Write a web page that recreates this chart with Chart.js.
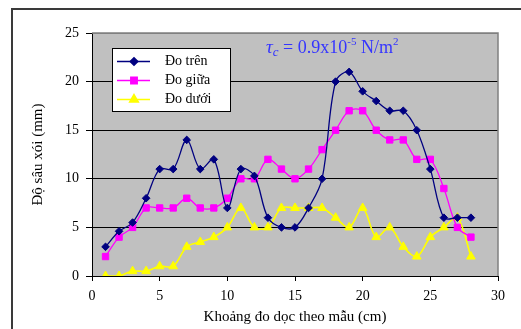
<!DOCTYPE html>
<html>
<head>
<meta charset="utf-8">
<script src="https://cdn.jsdelivr.net/npm/chart.js@4"></script>
<style>
  html, body { margin: 0; padding: 0; background: #fff; }
  #wrap { width: 521px; height: 329px; position: relative; }
</style>
</head>
<body>
<div id="wrap"><canvas id="c" width="521" height="329"></canvas></div>
<script>
// Measurement positions along the sample (cm)
const positions = [1, 2, 3, 4, 5, 6, 7, 8, 9, 10, 11, 12, 13, 14, 15, 16, 17, 18, 19, 20, 21, 22, 23, 24, 25, 26, 27, 28];

// Scour depth (mm)
const doTren = [3, 4.6, 5.5, 8, 11, 11, 14, 11, 12, 7, 11, 10.3, 6, 5, 5, 7, 10, 20, 21, 19, 18, 17, 17, 15, 11, 6, 6, 6];
const doGiua = [2, 4, 5, 7, 7, 7, 8, 7, 7, 8, 10, 10, 12, 11, 10, 11, 13, 15, 17, 17, 15, 14, 14, 12, 12, 9, 5, 4];
const doDuoi = [0, 0, 0.5, 0.5, 1, 1, 3, 3.5, 4, 5, 7, 5, 5, 7, 7, 7, 7, 6, 5, 7, 4, 5, 3, 2, 4, 5, 6, 2];

const seriesNames = ["Đo trên", "Đo giữa", "Đo dưới"];
const xTicks = [0, 5, 10, 15, 20, 25, 30];
const yTicks = [0, 5, 10, 15, 20, 25];

const SERIF = "'Liberation Serif', 'Times New Roman', serif";

function toPoints(values) {
  return positions.map((x, i) => ({ x, y: values[i] }));
}

// Gray plot background, outer frame, right/top plot edges
const backdrop = {
  id: "backdrop",
  beforeDraw(chart) {
    const { ctx, chartArea: a } = chart;
    ctx.save();
    ctx.fillStyle = "#c0c0c0";
    ctx.fillRect(a.left, a.top, a.right - a.left, a.bottom - a.top);
    ctx.strokeStyle = "#3a3a3a";
    ctx.lineWidth = 2;
    ctx.beginPath();
    ctx.moveTo(12, 329);
    ctx.lineTo(12, 9);
    ctx.lineTo(521, 9);
    ctx.stroke();
    ctx.restore();
  },
  beforeDatasetsDraw(chart) {
    const { ctx, chartArea: a } = chart;
    ctx.save();
    ctx.strokeStyle = "#808080";
    ctx.lineWidth = 1.5;
    ctx.beginPath();
    ctx.moveTo(a.left, a.top);
    ctx.lineTo(a.right, a.top);
    ctx.lineTo(a.right, a.bottom);
    ctx.stroke();
    ctx.restore();
  },
};

// Boxed legend inside the plot + tau annotation
const overlay = {
  id: "overlay",
  afterDraw(chart) {
    const { ctx } = chart;
    ctx.save();
    // legend box
    ctx.fillStyle = "#fff";
    ctx.fillRect(112, 48, 118, 63);
    ctx.strokeStyle = "#000";
    ctx.lineWidth = 1;
    ctx.strokeRect(112.5, 48.5, 118, 63);
    const rows = [61.5, 80.5, 99.5];
    chart.data.datasets.forEach((ds, i) => {
      const y = rows[i];
      ctx.strokeStyle = ds.borderColor;
      ctx.lineWidth = 1.5;
      ctx.beginPath();
      ctx.moveTo(117, y);
      ctx.lineTo(150, y);
      ctx.stroke();
      ctx.fillStyle = ds.pointBackgroundColor;
      ctx.strokeStyle = ds.pointBorderColor;
      Chart.helpers.drawPoint(ctx, {
        pointStyle: ds.pointStyle, radius: ds.pointRadius, borderWidth: 1, rotation: 0,
      }, 134, y);
      ctx.fillStyle = "#000";
      ctx.font = "14px " + SERIF;
      ctx.textBaseline = "middle";
      ctx.textAlign = "left";
      ctx.fillText(ds.label, 165, y);
    });

    // τc = 0.9x10-5 N/m2
    ctx.fillStyle = "#3535ff";
    ctx.textBaseline = "alphabetic";
    let x = 266;
    const base = 53;
    const put = (txt, font, dy) => {
      ctx.font = font;
      ctx.fillText(txt, x, base + dy);
      x += ctx.measureText(txt).width;
    };
    put("τ", "italic 19px " + SERIF, 0);
    put("c", "italic 13px " + SERIF, 3);
    put(" = 0.9x10", "18px " + SERIF, 0);
    put("-5", "11px " + SERIF, -8);
    put(" N/m", "18px " + SERIF, 0);
    put("2", "11px " + SERIF, -8);
    ctx.restore();
  },
};

const common = {
  borderWidth: 1.3,
  tension: 0.35,
  fill: false,
  pointBorderWidth: 1,
};

new Chart(document.getElementById("c"), {
  type: "line",
  data: {
    datasets: [
      {
        ...common,
        label: seriesNames[0],
        data: toPoints(doTren),
        borderColor: "#000080",
        pointBackgroundColor: "#000080",
        pointBorderColor: "#000080",
        pointStyle: "rectRot",
        pointRadius: 3.8,
      },
      {
        ...common,
        label: seriesNames[1],
        data: toPoints(doGiua),
        borderColor: "#ff00ff",
        pointBackgroundColor: "#ff00ff",
        pointBorderColor: "#ff00ff",
        pointStyle: "rect",
        pointRadius: 4.5,
      },
      {
        ...common,
        borderWidth: 1.6,
        label: seriesNames[2],
        data: toPoints(doDuoi),
        borderColor: "#ffff00",
        pointBackgroundColor: "#ffff00",
        pointBorderColor: "#ffff00",
        pointStyle: "triangle",
        pointRadius: 5,
      },
    ],
  },
  options: {
    responsive: false,
    animation: false,
    layout: { padding: { left: 0, right: 23, top: 33, bottom: 0 } },
    plugins: { legend: { display: false }, tooltip: { enabled: false } },
    scales: {
      x: {
        type: "linear",
        min: 0,
        max: 30,
        afterFit: (s) => { s.height = 53; },
        afterBuildTicks: (s) => { s.ticks = xTicks.map((v) => ({ value: v })); },
        ticks: { color: "#000", font: { family: SERIF, size: 14 }, padding: 7, maxRotation: 0 },
        grid: { drawOnChartArea: false, color: "#000", tickLength: 5 },
        border: { color: "#000", width: 1 },
        title: {
          display: true,
          text: "Khoảng đo dọc theo mẫu (cm)",
          color: "#000",
          font: { family: SERIF, size: 15 },
          padding: { top: 0, bottom: 3 },
        },
      },
      y: {
        min: 0,
        max: 25,
        afterFit: (s) => { s.width = 92; },
        afterBuildTicks: (s) => { s.ticks = yTicks.map((v) => ({ value: v })); },
        ticks: { color: "#000", font: { family: SERIF, size: 14 }, padding: 7 },
        grid: {
          color: (c) => (c.tick && c.tick.value === 25 ? "#808080" : "#000"),
          tickColor: "#000",
          tickLength: 6,
          lineWidth: 1,
        },
        border: { color: "#000", width: 1 },
        title: {
          display: true,
          text: "Độ sâu xói (mm)",
          color: "#000",
          font: { family: SERIF, size: 15 },
          padding: { top: 29, bottom: 0 },
        },
      },
    },
  },
  plugins: [backdrop, overlay],
});
</script>
</body>
</html>
